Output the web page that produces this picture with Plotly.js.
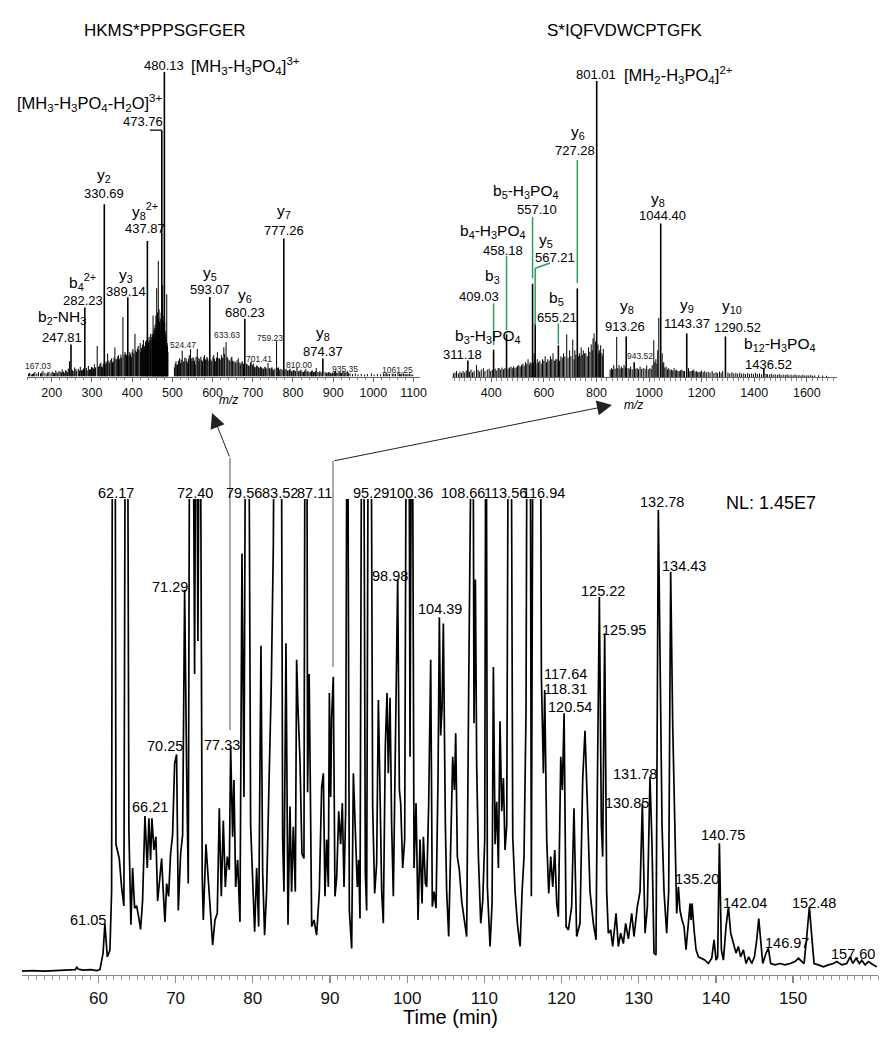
<!DOCTYPE html>
<html><head><meta charset="utf-8">
<script src="https://cdn.plot.ly/plotly-3.0.1.min.js"></script>
<style>html,body{margin:0;padding:0;background:#fff}#chart{width:885px;height:1050px}</style>
</head><body><div id="chart"></div>
<script>
// ---------- DATA ----------
// Chromatogram: [time (min), relative intensity (%)], values >100 are clipped peaks
const chromatogram = [
[50.1,0.2],[51.5,0.3],[53.0,0.2],[54.5,0.3],[56.0,0.3],[57.0,0.5],[57.2,1.0],[57.4,0.6],[58.0,0.4],[59.0,0.5],[59.8,0.3],[60.2,0.5],[60.6,4.0],[60.84,10.2],[61.15,3.2],[61.49,4.6],[61.71,17],[61.84,150],[62.14,150],[62.27,27],[62.7,24],[63.0,18],[63.3,14],[63.52,150],[63.74,150],[63.95,30],[64.21,10],[64.43,22],[64.69,13.5],[64.95,14],[65.21,11.7],[65.46,9],[65.72,15],[66.03,33],[66.33,22],[66.54,32.5],[66.76,23.7],[66.93,32.5],[67.19,25.8],[67.45,28.6],[67.67,15],[67.97,21],[68.19,24],[68.4,17],[68.62,10.6],[68.84,18.7],[69.09,16],[69.35,25],[69.61,29],[69.87,44],[70.13,46],[70.35,13],[70.65,25],[70.91,29],[71.17,80.8],[71.43,42.7],[71.64,18.7],[71.86,150],[72.2,150],[72.46,63],[72.68,150],[72.89,70],[73.15,150],[73.45,20],[73.59,11],[73.93,27],[74.28,18.7],[74.54,13.8],[74.8,5.7],[75.1,11],[75.4,12.4],[75.66,34.6],[75.92,16],[76.18,32],[76.44,18],[76.7,24.4],[76.96,21.6],[77.13,47.6],[77.39,28.6],[77.56,40.6],[77.78,18],[78.04,23.7],[78.34,10.6],[78.6,88.5],[78.86,37],[79.12,150],[79.42,150],[79.72,31],[79.98,18],[80.24,8.5],[80.5,22],[80.76,9.6],[81.06,69],[81.28,21],[81.53,7.8],[81.79,17],[82.14,42.7],[82.4,61],[82.66,90],[82.87,150],[83.65,150],[83.87,28],[84.04,17],[84.3,69.5],[84.56,10],[84.82,35],[85.03,17],[85.25,30.7],[85.51,17],[85.68,66],[85.85,56],[86.11,45],[86.37,25],[86.63,24],[86.8,150],[86.98,150],[87.1,38],[87.3,63],[87.45,40],[87.63,9.6],[87.93,11],[88.27,7.8],[88.62,17],[88.92,39],[89.14,42],[89.35,16],[89.57,28],[89.79,18],[89.92,59],[90.09,37],[90.22,54],[90.43,62.4],[90.65,16],[90.87,20],[91.13,34],[91.38,27],[91.6,35.7],[91.82,18],[92.03,34],[92.25,150],[92.51,13],[92.81,5],[93.03,42],[93.29,30.7],[93.54,18],[93.72,23.7],[93.89,11.3],[94.15,150],[94.32,150],[94.58,21],[94.75,13],[95.01,150],[95.27,150],[95.53,35],[95.79,16.6],[96.05,23],[96.27,57.5],[96.48,38.5],[96.7,17],[96.91,10.3],[97.17,47.6],[97.39,59],[97.56,42],[97.78,58],[97.99,31],[98.21,16],[98.43,47.6],[98.56,54.7],[98.77,83],[98.99,38.5],[99.16,35.7],[99.42,22],[99.68,28],[99.94,150],[100.2,150],[100.37,45.5],[100.63,150],[100.89,22],[101.15,35.7],[101.41,11],[101.67,28],[101.93,14.5],[102.1,28.6],[102.36,18.7],[102.53,18],[102.79,35.7],[103.05,66],[103.26,13.8],[103.48,17],[103.74,13.5],[104.0,41],[104.17,75],[104.34,50],[104.52,56],[104.69,73.7],[104.95,31],[105.12,17],[105.38,7.5],[105.64,24.4],[105.9,45.5],[106.12,38.5],[106.29,50.5],[106.5,24.4],[106.76,21.6],[107.07,14.9],[107.37,11.7],[107.71,7.5],[107.97,59.6],[108.15,90],[108.32,150],[108.49,150],[108.66,52.6],[108.84,83],[109.01,43.4],[109.23,24.4],[109.53,10.3],[109.79,15],[110.05,28],[110.22,150],[110.39,18],[110.74,5.4],[111.0,14.5],[111.17,64.5],[111.39,27],[111.6,36],[111.82,22],[112.03,53],[112.25,34],[112.47,41],[112.68,25.8],[112.9,31],[113.16,150],[113.42,150],[113.68,28.6],[113.98,17],[114.28,10.3],[114.63,5.4],[114.89,17],[115.14,24.4],[115.4,55],[115.58,150],[115.92,150],[116.09,16],[116.35,150],[117.22,150],[117.39,62.4],[117.65,42],[117.82,59.6],[118.08,28],[118.34,16.6],[118.6,24.4],[118.86,18],[119.12,25.8],[119.38,14.5],[119.59,11.7],[119.9,45.5],[120.11,38.5],[120.33,54.7],[120.59,9.6],[120.89,8.9],[121.31,13.8],[121.61,34.6],[121.96,7.5],[122.39,10.3],[122.74,40.6],[123.04,51],[123.34,35.7],[123.69,17],[124.12,10.3],[124.47,6.8],[124.64,38.5],[124.9,79.3],[125.16,31],[125.33,24.4],[125.59,71.6],[125.85,17],[126.06,8.2],[126.37,8.9],[126.63,5.4],[126.84,9],[127.06,12.4],[127.36,5.4],[127.66,8.2],[128.01,6],[128.31,10.3],[128.66,7],[129.09,12.4],[129.39,7.5],[129.82,13.8],[130.17,17],[130.47,35.7],[130.82,8.2],[131.12,13.8],[131.46,41.3],[131.72,27],[131.98,4],[132.24,3.6],[132.54,97.7],[132.76,66.7],[133.02,31],[133.28,17],[133.62,8.2],[133.88,17],[134.14,84.6],[134.4,52.6],[134.66,28],[134.92,12.4],[135.14,18],[135.35,13],[135.61,11],[135.87,9.6],[136.13,4.7],[136.43,10.3],[136.65,14.5],[136.78,11],[136.91,14.5],[137.17,8.9],[137.43,4.7],[137.73,3.2],[138.16,2.9],[138.59,2.5],[139.02,1.8],[139.46,2.9],[139.76,6.8],[140.02,2.5],[140.23,3.2],[140.45,27.2],[140.71,4.7],[140.97,2.5],[141.31,9.6],[141.62,13.8],[141.92,8.2],[142.26,6],[142.61,4],[142.91,5.4],[143.21,3.2],[143.56,4.7],[143.91,1.8],[144.25,3.2],[144.64,1.8],[144.99,3.2],[145.29,6.8],[145.55,11.3],[145.81,6],[146.07,1.8],[146.5,4],[146.8,5],[147.1,1.8],[147.66,1.5],[148.31,1.8],[148.96,1.5],[149.61,1.8],[150.26,2.2],[150.69,2.9],[150.99,2.5],[151.42,1.8],[151.77,7.5],[152.11,13.8],[152.42,7.5],[152.72,1.8],[153.28,1.5],[153.93,1.1],[154.58,1.5],[155.22,1.8],[155.66,2.2],[156.3,1.5],[156.95,1.8],[157.38,3.2],[157.73,1.8],[158.16,2.9],[158.59,1.8],[158.9,2.5],[159.33,1.5],[159.76,2.2],[160.41,1.5],[160.84,1.1]
];
const timeTicks = [60,70,80,90,100,110,120,130,140,150];

// Left spectrum (HKMS*PPPSGFGER): annotated peaks [m/z, %]
const leftMainPeaks = [[247.81,10.5],[282.23,22.7],[330.69,56.6],[389.14,26],[437.87,44.5],[473.76,80.9],[480.13,100],[593.07,26.1],[680.23,19],[777.26,45.3],[874.37,5.9]];
// Left spectrum: other peaks [m/z, %]
const leftMinorPeaks = [
[142,0.9],[145,1.2],[149,0.7],[152,0.8],[155,1.1],[158,1.5],[163,1.0],[167.03,1.4],[172,1.0],[175,1.3],[178,1.8],[183,1.2],[188,0.9],[190,1.4],[193,1.5],[198,1.0],[201,1.6],[204,1.3],[207,1.1],[210,2.0],[213,1.4],[215,1.1],[218,1.8],[221,1.6],[224,1.3],[226,2.4],[229,1.6],[231,1.2],[234,2.0],[236,1.9],[239,1.4],[241,2.6],[244,5.0],[250,2.2],[252,2.0],[255,1.7],[257,3.0],[260,2.4],[262,1.8],[266,2.5],[269,1.9],[271,3.2],[274,2.0],[276,2.2],[279,2.6],[286,2.8],[288,2.0],[291,3.5],[294,2.3],[296,2.4],[299,3.1],[301,3.0],[304,2.6],[306,4.0],[309,3.0],[313,10.0],[316,3.2],[318,3.5],[320,4.1],[322,4.5],[324,3.3],[326,3.0],[328,4.2],[333,4.0],[335,5],[337,4.4],[339,7.5],[342,5.2],[344,4.5],[347,5.5],[349,6],[351,4.6],[353,5],[355,6.2],[357,9.6],[360,5.8],[362,5.5],[364,6.6],[366,7],[368,5.6],[370,6],[372,7.2],[374,6.3],[377,19.5],[380,7.0],[382,8],[384,7.5],[386,7],[392,6.8],[394,8],[396,7.4],[398,6.5],[400,8.2],[402,9],[404,7.6],[407,14],[409,8.5],[411,8],[413,9.2],[415,10],[417,8.8],[420,11],[421,8],[423,9.5],[424,8],[426,10.5],[427,8.5],[428,12],[429,9],[431,10],[432,9],[433,11.5],[435,10],[436,12],[438,11],[440,11.5],[441,11],[442,13],[444,12],[445,9],[446,14],[447,12],[449,13],[450,14],[451,13],[452,20],[453,14],[454,15],[455,16],[456,13],[457,17],[458,15],[459,20],[460,16],[461,29],[462,18],[463,21],[464,17],[465,38],[466,19],[467,22],[468,18],[469,17],[470,15],[471,19],[472,21],[474,24],[475,19],[476,30],[477,18],[478,17],[479,20],[481,18],[482,15],[483,13],[484,14],[485,12],[486,27],[487,11],[488,10],[489,8],
[505,3],[507,4.2],[509,5],[511,3.8],[513,4],[515,5.2],[518,6],[520,4.4],[522,5.5],[524.47,8.5],[527,4.8],[529,5],[531,6.2],[534,6],[536,5.1],[538,4.5],[540,5.8],[542,7],[545,8.9],[547,6],[549,5],[551,6.3],[553,6],[555,5.2],[557,4],[559,6.5],[562,9],[564,6.2],[566,5],[568,5.8],[571,6.5],[573,5.4],[575,5],[578,6.3],[580,7],[582,5.6],[584,5.5],[586,6.4],[588,6],[591,5.2],[596,5.6],[598,5],[601,6.4],[603,7],[605,5.8],[607,5],[610,6.2],[612,8],[614,6],[617,6],[619,5.6],[622,7],[625,6.2],[628,9.6],[630,7.4],[633.63,11.3],[636,6.5],[638,6],[641,5.4],[643,5],[646,6.1],[648,6.5],[650,5.2],[653,5],[656,4.8],[658,4.5],[661,5.3],[664,6],[666,4.6],[669,4],[671,4.6],[674,5],[677,4.2],[684,4.2],[686,4],[689,3.6],[691,3.5],[694,4.4],[696,5],[699,3.8],[701.41,4.3],[704,3.2],[706,3],[709,3.6],[711,3.5],[714,3.1],[716,2.8],[719,3.3],[722,3],[725,2.7],[727,2.5],[730,3.2],[732,3],[735,2.6],[738,4.5],[741,2.8],[743,2.5],[746,2.9],[748,3],[750,2.4],[752,2],[755,2.6],[759.23,11.6],[762,2.8],[764,3],[767,2.3],[770,2.5],[773,2.2],[780,2.1],[783,2.5],[786,1.9],[788,2],[791,2.2],[793,2.5],[796,1.7],[798,1.8],[801,2.1],[803,2],[806,1.8],[810,3],[813,1.7],[815,1.8],[818,1.9],[820,2.2],[823,1.6],[826,1.5],[829,1.9],[832,2.5],[835,1.6],[837,1.8],[840,1.4],[843,1.5],[846,1.8],[848,2],[851,1.4],[853,1.5],[856,1.7],[858,2.8],[862,1.5],[865,1.3],[867,1.8],[870,1.4],[880,1.5],[883,1.2],[885,1.2],[888,1.4],[890,1.5],[893,1.1],[895,1.0],[898,1.3],[900,1.2],[903,1.5],[906,1.8],[909,1.3],[912,1.2],[915,1.5],[918,1.4],[921,1.2],[924,1.8],[927,1.4],[929,1.2],[932,1.5],[935.35,1.6],[938,1.2],[942,1.0],[948,0.8],[955,1.0],[962,0.7],[970,0.8],[978,0.6],[985,0.8],[995,1.0],[1002,0.6],[1010,0.8],[1018,0.7],[1025,1.0],[1029,0.8],[1032,1.2],[1036,0.9],[1040,0.8],[1047,1.0],[1051,0.8],[1055,0.9],[1061.25,1.2],[1065,0.9],[1068,0.8],[1071,1.0],[1075,1.0],[1079,0.8],[1082,0.7],[1086,0.9],[1090,0.9],[1094,0.7],[1098,0.6]
];

// Right spectrum (S*IQFVDWCPTGFK): annotated peaks [m/z, %]
const rightMainPeaks = [[311.18,5.6],[409.03,9.2],[458.18,14.4],[557.10,31.5],[567.21,18],[655.21,10.7],[727.28,29.9],[801.01,100],[913.26,13.7],[943.52,5],[1044.40,51.8],[1143.37,14.7],[1290.52,13.7],[1436.52,2.8]];
// Right spectrum: other peaks [m/z, %]
const rightMinorPeaks = [
[256,1.2],[262,1.5],[268,2],[275,1.2],[281,1.8],[287,1.4],[293,2],[299,1.5],[305,2.2],[317,1.8],[323,2.5],[329,1.6],[335,2],[344,4],[350,2.4],[356,1.8],[362,2.5],[370,3],[376,2],[385,2.5],[392,2.8],[398,2],[404,2.5],[415,2.8],[421,2.2],[426,3],[430,3],[436,2.5],[441,3.2],[447,2.6],[452,3],[464,2.8],[469,3.2],[475,3.5],[480,3],[485,3.6],[490,3],[495,3.3],[500,3.8],[505,4],[510,3.5],[515,4],[520,4.5],[525,3.8],[530,5],[535,4.5],[540,6],[545,4.2],[548,5],[552,4.6],[560,5],[563,8],[570,4.5],[575,6],[580,5],[585,5.5],[590,4.5],[595,6],[600,5.5],[605,7],[610,5],[615,6],[620,5.5],[625,7],[630,6],[635,8],[640,5.5],[645,6],[650,6],[660,5.5],[665,7],[670,6.5],[675,8],[680,7],[687,14.4],[692,6.5],[698,9],[703,7],[710,12.6],[715,6],[718,9],[722,7.5],[731,7],[735,8],[738,7],[742,10],[746,7.5],[750,9],[755,8],[760,8],[765,7],[770,10],[775,8.5],[780,11],[784,9],[787,13],[791,14.7],[796,12],[799,9],[806,11],[809,8],[811,9],[814,8.5],[816,10.7],[821,8],[824,7],[826,9.5],
[852,2.5],[857,3],[861,2.6],[866,4],[871,2.8],[877,13.5],[881,3],[886,4],[890,2.8],[895,3.5],[900,3],[905,4],[910,3.2],[920,3],[925,2.8],[930,3.5],[936,2.6],[950,2.8],[955,3],[960,2.6],[966,3.5],[972,2.7],[978,3],[985,2.8],[991,3.9],[997,2.6],[1003,3],[1008,2.7],[1012,4],[1018,12.4],[1022,5],[1026,6],[1030,4.5],[1033,9],[1037,20],[1050,8],[1053,4.5],[1056,5],[1060,3.2],[1065,3.5],[1070,2.6],[1075,3],[1080,2.4],[1085,2.5],[1090,2.2],[1095,3],[1100,2.2],[1105,2.5],[1110,2],[1115,2],[1120,2.3],[1125,2.5],[1130,2],[1135,2],[1150,3],[1155,2],[1160,2],[1165,2.2],[1170,2.5],[1175,1.8],[1180,2],[1185,1.6],[1190,1.8],[1195,1.7],[1200,2.2],[1206,1.6],[1212,2],[1218,1.5],[1225,1.8],[1232,1.5],[1240,2],[1247,1.4],[1255,1.6],[1261,1.3],[1268,1.8],[1274,1.4],[1280,2],[1300,1.5],[1307,1.2],[1315,1.6],[1322,1.2],[1330,1.4],[1337,1.1],[1345,1.5],[1352,1.1],[1360,1.2],[1367,1.0],[1375,1.3],[1382,1.0],[1390,1.2],[1397,1.0],[1405,1.4],[1412,1.0],[1420,1.2],[1428,0.9],[1445,1.1],[1450,1],[1458,0.8],[1465,1.1],[1472,0.8],[1480,0.9],[1488,0.7],[1495,1],[1502,0.7],[1510,0.8],[1518,0.7],[1525,0.9],[1532,0.6],[1540,0.8],[1548,0.6],[1555,0.9],[1562,0.6],[1570,0.7],[1578,0.5],[1585,0.8],[1592,0.5],[1600,0.6],[1607,0.5],[1615,0.7],[1622,0.4],[1630,0.5],[1645,0.6],[1660,0.5],[1675,0.4]
];

// Chromatogram peak labels: [text, time position, intensity position]
const chromLabels = [
["132.78",133.0,99.4],["134.43",135.9,85.8],["125.22",125.4,80.5],["125.95",128.1,72.3],["117.64",120.45,63],["118.31",120.45,59.8],["120.54",121.1,56],["104.39",104.25,76.7],["98.98",97.77,83.7],["71.29",69.27,81.4],["70.25",68.62,47.8],["77.33",76.0,48],["66.21",66.67,34.9],["61.05",58.64,11],
["131.78",129.52,41.9],["130.85",128.49,35.7],["140.75",140.9,29],["135.20",137.5,19.7],["142.04",143.77,14.6],["146.97",149.2,6.1],["152.48",152.7,14.6],["157.60",157.8,3.8]
];
// Labels of the clipped (off-scale) peaks along the top: [text, time position]
const chromTopLabels = [["62.17",62.27],["72.40",72.5],["79.56",78.85],["83.52",83.52],["87.11",87.93],["95.29",95.31],["100.36",100.5],["108.66",107.2],["113.56",112.7],["116.94",117.6]];

// Left spectrum labels: [ion text, number text, x m/z, ion y %, number y %]
const leftIonLabels = [
["y<sub>2</sub>","330.69",330.69,66.0,60.2],
["y<sub>8</sub><sup>2+</sup>","437.87",432,54.3,48.5],
["y<sub>7</sub>","777.26",777.26,54.2,48.0],
["y<sub>3</sub>","389.14",385,33.3,28.0],
["b<sub>4</sub><sup>2+</sup>","282.23",277,30.9,25.0],
["b<sub>2</sub>-NH<sub>3</sub>","247.81",225,19.3,12.8],
["y<sub>5</sub>","593.07",593.07,33.8,28.6],
["y<sub>6</sub>","680.23",680.23,26.7,21.0],
["y<sub>8</sub>","874.37",874.37,14.0,8.2]
];
const leftSmallLabels = [["167.03",165.7,3.3],["524.47",526.4,10.2],["633.63",635.9,13.5],["701.41",715.5,5.9],["759.23",742.8,12.8],["810.00",815,3.9],["935.35",929.4,2.6],["1061.25",1058.8,2.3]];
// Right spectrum labels: [ion text, number text, ion x, ion y %, number x, number y %]
const rightIonLabels = [
["y<sub>6</sub>","727.28",730,82.5,718.5,76.3],
["b<sub>5</sub>-H<sub>3</sub>PO<sub>4</sub>","557.10",528.4,62.6,574,56.7],
["y<sub>8</sub>","1044.40",1034,60.0,1049.3,54.6],
["b<sub>4</sub>-H<sub>3</sub>PO<sub>4</sub>","458.18",403,49.0,444.7,42.8],
["y<sub>5</sub>","567.21",608.2,46.0,642.5,40.4],
["b<sub>3</sub>","409.03",403,33.8,353.5,27.3],
["b<sub>5</sub>","655.21",650,26.4,650,20.2],
["b<sub>3</sub>-H<sub>3</sub>PO<sub>4</sub>","311.18",384,13.6,292.6,7.7],
["y<sub>8</sub>","913.26",916,23.7,908.6,17.1],
["y<sub>9</sub>","1143.37",1144.4,24.0,1143.37,18.1],
["y<sub>10</sub>","1290.52",1315.6,23.7,1334.6,16.8],
["b<sub>12</sub>-H<sub>3</sub>PO<sub>4</sub>","1436.52",1498,10.9,1452.4,4.3]
];
// Green connector lines on the right spectrum: [[x,y],[x,y],...]
const rightConnectors = [
[[727.28,31.7],[727.28,73.2]],
[[557.10,33.3],[557.10,54.0]],
[[567.21,17.5],[567.21,36.7],[623.4,38.5]],
[[458.18,15.8],[458.18,40.8]],
[[409.03,10.7],[409.03,24.9]],
[[655.21,11.0],[655.21,18.1]]
];

// ---------- BUILD ----------
const W = 885, H = 1050;
const px = x => x / W;
const py = y => 1 - y / H;
const FONT = "Liberation Sans, Arial, Helvetica, sans-serif";

function sticks(peaks) {
  const x = [], y = [];
  peaks.forEach(p => { x.push(p[0], p[0], null); y.push(0, p[1], null); });
  return {x, y};
}
const lMin = sticks(leftMinorPeaks), lMain = sticks(leftMainPeaks);
const rMin = sticks(rightMinorPeaks), rMain = sticks(rightMainPeaks);

const traces = [
  {x: chromatogram.map(p => p[0]), y: chromatogram.map(p => p[1]), xaxis: 'x', yaxis: 'y', mode: 'lines', line: {color: '#000', width: 1.7}, hoverinfo: 'skip'},
  {x: lMin.x, y: lMin.y, xaxis: 'x2', yaxis: 'y2', mode: 'lines', line: {color: '#000', width: 1}, hoverinfo: 'skip'},
  {x: lMain.x, y: lMain.y, xaxis: 'x2', yaxis: 'y2', mode: 'lines', line: {color: '#000', width: 1.6}, hoverinfo: 'skip'},
  {x: rMin.x, y: rMin.y, xaxis: 'x3', yaxis: 'y3', mode: 'lines', line: {color: '#000', width: 1}, hoverinfo: 'skip'},
  {x: rMain.x, y: rMain.y, xaxis: 'x3', yaxis: 'y3', mode: 'lines', line: {color: '#000', width: 1.6}, hoverinfo: 'skip'}
];

const annotations = [];
const shapes = [];
function txt(text, x, y, xref, yref, size, extra) {
  annotations.push(Object.assign({text, x, y, xref, yref, showarrow: false, xanchor: 'center', yanchor: 'middle',
    font: {family: FONT, size, color: '#000'}}, extra || {}));
}

// Titles
txt('HKMS*PPPSGFGER', px(165), py(30), 'paper', 'paper', 17);
txt('S*IQFVDWCPTGFK', px(625), py(30), 'paper', 'paper', 17);
txt('<i>m/z</i>', px(228), py(400), 'paper', 'paper', 12);
txt('<i>m/z</i>', px(633), py(405), 'paper', 'paper', 12);
txt('Time (min)', px(450), py(1017), 'paper', 'paper', 20);
txt('NL: 1.45E7', 147.1, 99.2, 'x', 'y', 18);

// Chromatogram labels
chromLabels.forEach(l => txt(l[0], l[1], l[2], 'x', 'y', 14.5));
chromTopLabels.forEach(l => txt(l[0], l[1], py(493), 'x', 'paper', 14.5));

// Left spectrum labels
txt('480.13', 480.13, py(66), 'x2', 'paper', 13);
txt('[MH<sub>3</sub>-H<sub>3</sub>PO<sub>4</sub>]<sup>3+</sup>', 541.3, py(66), 'x2', 'paper', 16.5, {xanchor: 'left'});
txt('[MH<sub>3</sub>-H<sub>3</sub>PO<sub>4</sub>-H<sub>2</sub>O]<sup>3+</sup>', 295, 89.8, 'x2', 'y2', 16.5);
txt('473.76', 427, 83.6, 'x2', 'y2', 13);
leftIonLabels.forEach(l => { txt(l[0], l[2], l[3], 'x2', 'y2', 15.5); txt(l[1], l[2], l[4], 'x2', 'y2', 13); });
leftSmallLabels.forEach(l => txt(l[0], l[1], l[2], 'x2', 'y2', 8.5, {font: {family: FONT, size: 8.5, color: '#222'}}));
shapes.push({type: 'line', xref: 'x2', yref: 'y2', x0: 444, x1: 473.76, y0: 80.9, y1: 80.9, line: {color: '#000', width: 1.4}});

// Right spectrum labels
txt('801.01', 798.3, py(75), 'x3', 'paper', 13);
txt('[MH<sub>2</sub>-H<sub>3</sub>PO<sub>4</sub>]<sup>2+</sup>', 897.2, py(75), 'x3', 'paper', 16.5, {xanchor: 'left'});
rightIonLabels.forEach(l => { txt(l[0], l[2], l[3], 'x3', 'y3', 15.5); txt(l[1], l[4], l[5], 'x3', 'y3', 13); });
txt('943.52', 965.6, 7, 'x3', 'y3', 8.5, {font: {family: FONT, size: 8.5, color: '#222'}});
rightConnectors.forEach(c => {
  for (let i = 0; i < c.length - 1; i++) {
    shapes.push({type: 'line', xref: 'x3', yref: 'y3', x0: c[i][0], y0: c[i][1], x1: c[i+1][0], y1: c[i+1][1], line: {color: '#2e9e5e', width: 1.5}});
  }
});

// Arrows from chromatogram to spectra
shapes.push({type: 'line', xref: 'paper', yref: 'paper', x0: px(230), x1: px(230), y0: py(730), y1: py(458), line: {color: '#555', width: 1}});
shapes.push({type: 'line', xref: 'paper', yref: 'paper', x0: px(333), x1: px(333), y0: py(667), y1: py(461), line: {color: '#555', width: 1}});
annotations.push({x: px(212), y: py(413), xref: 'paper', yref: 'paper', ax: 18, ay: 45, text: '', showarrow: true, arrowhead: 2, arrowsize: 3, arrowwidth: 1, arrowcolor: '#222'});
annotations.push({x: px(612), y: py(405), xref: 'paper', yref: 'paper', ax: -279, ay: 56, text: '', showarrow: true, arrowhead: 2, arrowsize: 3, arrowwidth: 1, arrowcolor: '#222'});

const axBase = {showgrid: false, zeroline: false, showline: true, ticks: 'outside', tick0: 0, fixedrange: true};
const layout = {
  width: W, height: H, margin: {l: 0, r: 0, t: 0, b: 0}, paper_bgcolor: '#fff', plot_bgcolor: 'rgba(0,0,0,0)',
  showlegend: false, font: {family: FONT, color: '#000'},
  xaxis: Object.assign({}, axBase, {domain: [px(22), px(878)], range: [50.1, 161], anchor: 'y', tickmode: 'array', tickvals: timeTicks,
    linecolor: '#888', linewidth: 1.2, tickcolor: '#888', ticklen: 7, tickwidth: 1.2,
    minor: {tickmode: 'linear', dtick: 1, tick0: 0, ticks: 'outside', ticklen: 3.5, tickcolor: '#999', tickwidth: 1},
    tickfont: {family: FONT, size: 17, color: '#111'}}),
  yaxis: {domain: [py(975), py(499)], range: [-0.63, 100], visible: false, fixedrange: true, anchor: 'x'},
  xaxis2: Object.assign({}, axBase, {domain: [px(27), px(420)], range: [138.4, 1116], anchor: 'y2', dtick: 100,
    linecolor: '#666', linewidth: 1, tickcolor: '#666', ticklen: 4,
    minor: {dtick: 20, tick0: 0, ticks: 'outside', ticklen: 2.5, tickcolor: '#888'},
    tickfont: {family: FONT, size: 12.5, color: '#111'}}),
  yaxis2: {domain: [py(376.5), py(72)], range: [0, 100], visible: false, fixedrange: true, anchor: 'x2'},
  xaxis3: Object.assign({}, axBase, {domain: [px(452), px(837)], range: [250.8, 1714.7], anchor: 'y3', dtick: 200,
    linecolor: '#666', linewidth: 1, tickcolor: '#666', ticklen: 4,
    minor: {dtick: 20, tick0: 0, ticks: 'outside', ticklen: 2.5, tickcolor: '#888'},
    tickfont: {family: FONT, size: 12.5, color: '#111'}}),
  yaxis3: {domain: [py(377), py(80.7)], range: [0, 100], visible: false, fixedrange: true, anchor: 'x3'},
  annotations, shapes
};

Plotly.newPlot('chart', traces, layout, {staticPlot: true, displayModeBar: false});
</script></body></html>
